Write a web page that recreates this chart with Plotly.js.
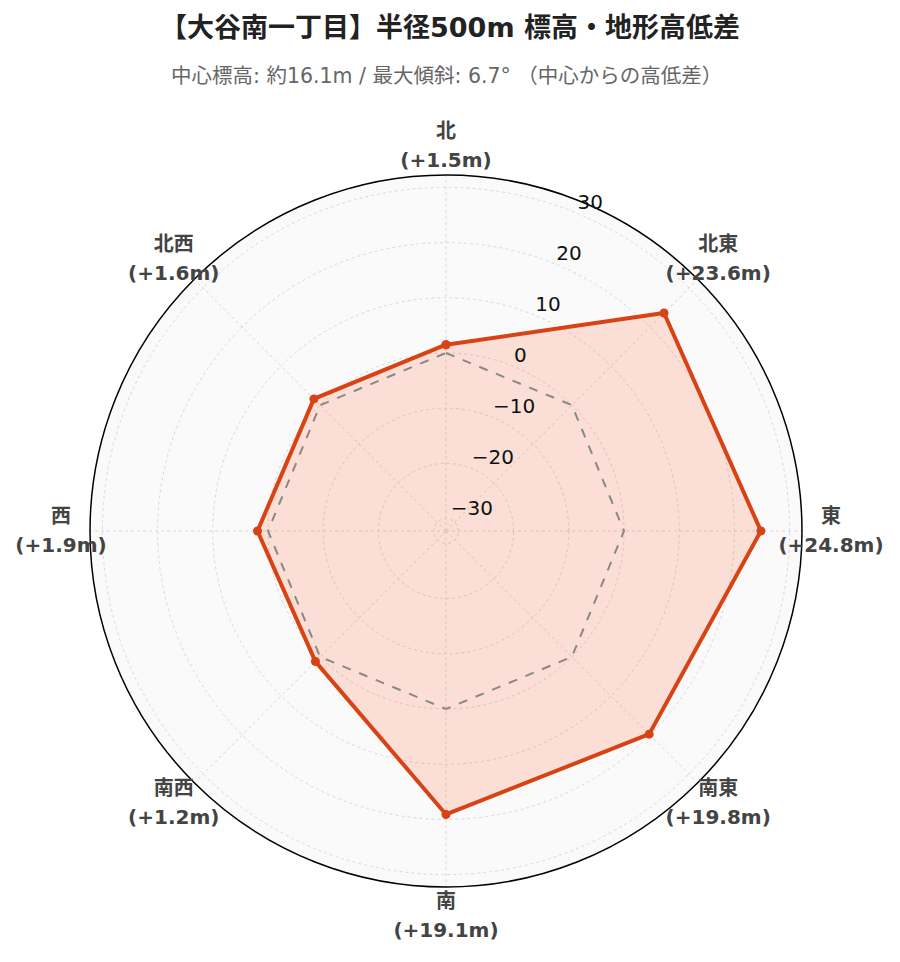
<!DOCTYPE html>
<html><head><meta charset="utf-8">
<script src="https://cdn.plot.ly/plotly-3.0.1.min.js"></script>
<style>body{margin:0;background:#fff}</style>
</head><body><div id="chart" style="width:900px;height:962px"></div>
<script>
const directions = ["北","北東","東","南東","南","南西","西","北西"];
const diffs = [1.5, 23.6, 24.8, 19.8, 19.1, 1.2, 1.9, 1.6];
const zeroLine = [0,0,0,0,0,0,0,0];
const radialTicks = [-30,-20,-10,0,10,20,30];

const fmt = v => (v >= 0 ? "+" : "") + v.toFixed(1) + "m";
const dirNames = directions.map(d => "<b>" + d + "</b>");
const dirValues = diffs.map(v => "<b>(" + fmt(v) + ")</b>");
const dirDegrees = directions.map((d,i) => i * 360 / directions.length);
const closeArr = a => a.concat([a[0]]);
const maxAbs = Math.max(...diffs.map(Math.abs)) * 1.3;
const FONT = "'DejaVu Sans', 'Noto Sans CJK JP', sans-serif";
const RADIAL_LABEL_THETA = 22.5;      // radial tick labels drawn along this direction
const PLOT_PX = 774;                  // plot area size
const INSET = 31 / PLOT_PX;           // inner polar inset inside label ring
const innerDomain = [INSET, 1 - INSET];
const ringDomain = [2 / PLOT_PX, 1 - 2 / PLOT_PX];
const labelFont = {size:20, color:"#444", family:FONT};

const traces = [
  {type:"scatterpolar", mode:"lines+markers", theta:closeArr(directions), r:closeArr(diffs),
   fill:"toself", fillcolor:"rgba(255,87,34,0.17)",
   line:{color:"#d84315", width:4}, marker:{color:"#d84315", size:9}, showlegend:false},
  {type:"scatterpolar", mode:"lines", theta:closeArr(directions), r:closeArr(zeroLine),
   line:{color:"#888", width:2, dash:"dash"}, hoverinfo:"skip", showlegend:false},
  {type:"scatterpolar", subplot:"polar2", mode:"text", r:radialTicks,
   theta:radialTicks.map(() => RADIAL_LABEL_THETA),
   text:radialTicks.map(v => v < 0 ? "\u2212" + Math.abs(v) : String(v)),
   textposition:"top right", cliponaxis:false,
   textfont:{size:20, color:"#111", family:FONT}, showlegend:false, hoverinfo:"skip"},
  {type:"scatterpolar", subplot:"polar3", mode:"text+markers", r:directions.map(() => 1),
   theta:dirDegrees, text:dirNames, textposition:"top center", cliponaxis:false,
   marker:{size:3, color:"rgba(0,0,0,0)"},
   textfont:labelFont, showlegend:false, hoverinfo:"skip"},
  {type:"scatterpolar", subplot:"polar3", mode:"text+markers", r:directions.map(() => 1),
   theta:dirDegrees, text:dirValues, textposition:"bottom center", cliponaxis:false,
   marker:{size:8, color:"rgba(0,0,0,0)"},
   textfont:labelFont, showlegend:false, hoverinfo:"skip"}
];

const layout = {
  width:900, height:962,
  paper_bgcolor:"#fff",
  font:{family:FONT, color:"#222"},
  title:{text:"<b>【大谷南一丁目】半径500m 標高・地形高低差</b>", x:0.5, xanchor:"center", y:0.971, yanchor:"middle",
    font:{size:27, color:"#222", family:FONT}},
  annotations:[{text:"中心標高: 約16.1m / 最大傾斜: 6.7° （中心からの高低差）", xref:"paper", yref:"paper",
    x:0.5, y:1 + (144 - 76) / PLOT_PX, xanchor:"center", yanchor:"middle", showarrow:false,
    font:{size:20.5, color:"#666", family:FONT}}],
  margin:{l:59, r:67, t:144, b:44},
  showlegend:false,
  polar:{
    bgcolor:"#fafafa",
    domain:{x:innerDomain, y:innerDomain},
    radialaxis:{range:[-maxAbs, maxAbs], tickvals:radialTicks, angle:67.5, showticklabels:false,
      showline:false, ticks:"", gridcolor:"#d8d8d8", griddash:"dot", gridwidth:1},
    angularaxis:{direction:"clockwise", rotation:90, tickvals:directions, showticklabels:false,
      showline:true, linecolor:"#000", linewidth:1.5, ticks:"",
      gridcolor:"#d8d8d8", griddash:"dot", gridwidth:1}
  },
  polar2:{
    bgcolor:"rgba(0,0,0,0)",
    domain:{x:innerDomain, y:innerDomain},
    radialaxis:{range:[-maxAbs, maxAbs], visible:false},
    angularaxis:{direction:"clockwise", rotation:90, thetaunit:"degrees", visible:false}
  },
  polar3:{
    bgcolor:"rgba(0,0,0,0)",
    domain:{x:ringDomain, y:ringDomain},
    radialaxis:{range:[0, 1], visible:false},
    angularaxis:{direction:"clockwise", rotation:90, thetaunit:"degrees", visible:false}
  }
};
Plotly.newPlot("chart", traces, layout, {displayModeBar:false, staticPlot:true});
</script></body></html>
